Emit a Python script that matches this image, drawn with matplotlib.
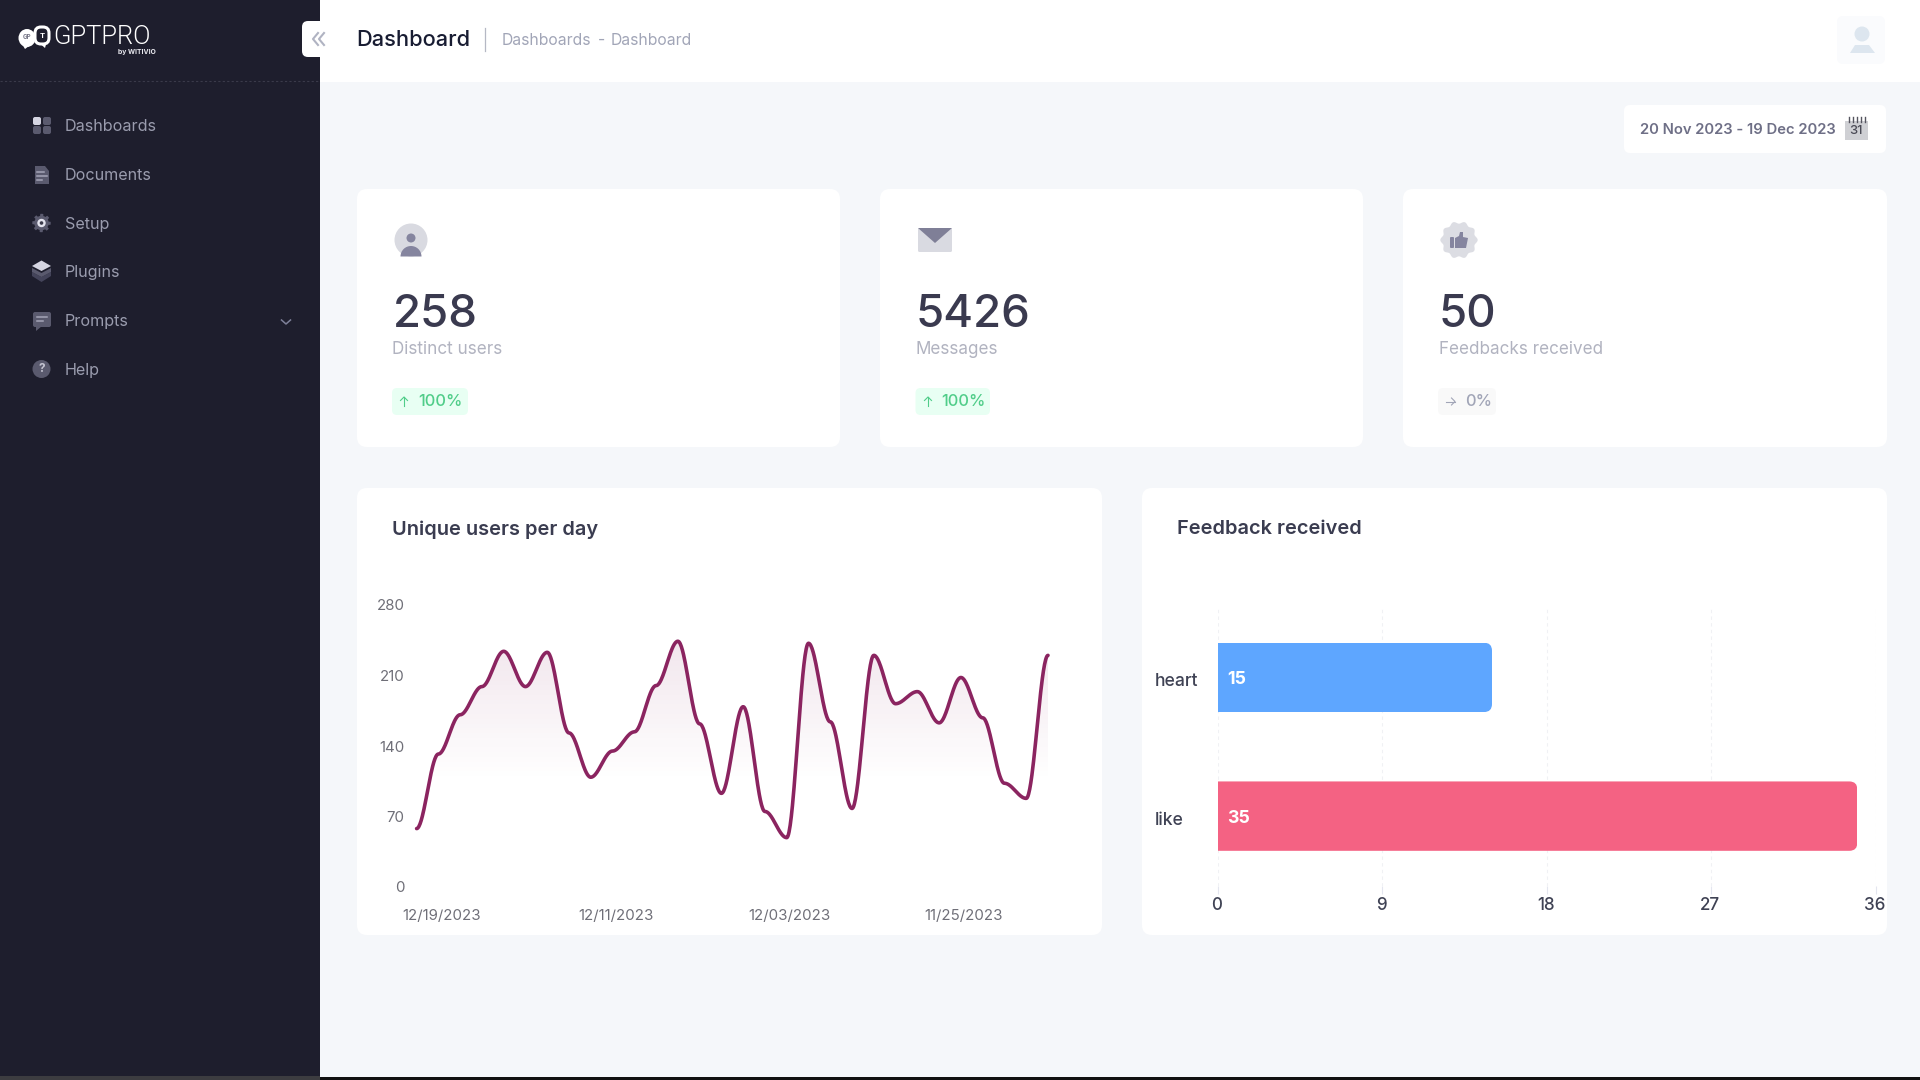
import numpy as np
import matplotlib
matplotlib.use("Agg")
import matplotlib.pyplot as plt
from matplotlib.patches import FancyBboxPatch, Rectangle, Circle, Polygon, Ellipse, Wedge
from matplotlib.ticker import FixedLocator
from matplotlib.transforms import ScaledTranslation

plt.rcParams['font.family'] = ['Inter', 'DejaVu Sans']

# ---------- data ----------
user_counts = [58, 132, 171, 199, 234, 199, 233, 153, 109, 135, 154, 200, 244, 162, 93,
               179, 75, 49, 242, 164, 78, 230, 182, 194, 163, 208, 168, 103, 88, 230]
date_tick_positions = [1, 9, 17, 25]
date_tick_labels = ['12/19/2023', '12/11/2023', '12/03/2023', '11/25/2023']
user_yticks = [0, 70, 140, 210, 280]

feedback_names = ['heart', 'like']
feedback_values = [15, 35]
feedback_colors = ['#5ea6ff', '#f46283']
feedback_xticks = [0, 9, 18, 27, 36]

menu_items = ['Dashboards', 'Documents', 'Setup', 'Plugins', 'Prompts', 'Help']
kpi_values = ['258', '5426', '50']
kpi_labels = ['Distinct users', 'Messages', 'Feedbacks received']
kpi_changes = ['100%', '100%', '0%']
# ---------------------------

W, H = 1920, 1080
fig = plt.figure(figsize=(19.2, 10.8), dpi=100, facecolor='#f5f7fa')
ui = fig.add_axes([0, 0, 1, 1])
ui.set_xlim(0, W)
ui.set_ylim(H, 0)
ui.axis('off')


def px(v):
    return v * 0.72


def box(x0, y0, x1, y1, color, r=0, z=1, **kw):
    if r:
        p = FancyBboxPatch((x0, y0), x1 - x0, y1 - y0, boxstyle=f'round,pad=0,rounding_size={r}',
                           fc=color, ec='none', zorder=z, **kw)
    else:
        p = Rectangle((x0, y0), x1 - x0, y1 - y0, fc=color, ec='none', zorder=z, **kw)
    ui.add_patch(p)
    return p


def label(x, y, s, size, color, weight=400, ha='left', z=5, family=None):
    t = ui.text(x, y + 1.5, s, fontsize=px(size), color=color, fontweight=weight, ha=ha,
                va='center', zorder=z)
    if family:
        t.set_fontfamily(family)
    return t


# page structure
box(0, 0, 320, 1076, '#1e1e2d', z=1)
box(0, 1076, 320, 1080, '#3c3c40', z=1)
box(320, 1077, W, 1080, '#111111', z=1)
box(320, 0, W, 82, '#ffffff', z=1)
ui.plot([0, 320], [81, 81], color='#3a3a4a', lw=0.8, ls=(0, (2, 2)), zorder=2)

# logo
ui.add_patch(Ellipse((27, 38), 17, 18, fc='white', ec='none', zorder=3))
ui.add_patch(Polygon([[22, 44], [29, 46], [25, 49]], fc='white', ec='none', zorder=3))
ui.add_patch(FancyBboxPatch((35, 27), 14, 17, boxstyle='round,pad=0,rounding_size=6',
                            fc='#1e1e2d', ec='white', lw=2.2, zorder=4))
ui.add_patch(Polygon([[41, 44.5], [46, 44.5], [45, 48]], fc='white', ec='none', zorder=4))
ui.text(27, 37, 'GP', fontsize=4.5, color='#777788', ha='center', va='center', zorder=5, fontweight=700)
ui.text(42, 36, 'T', fontsize=5.5, color='white', ha='center', va='center', zorder=5, fontweight=700)
label(53, 36, 'GPTPRO', 25.5, 'white', 300, family=['Roboto', 'DejaVu Sans'])
label(118, 50.5, 'by WITIVIO', 6.8, '#e8e8ee', 700)

# sidebar menu
menu_y = [125, 174, 223, 271, 320, 369]
for name, y in zip(menu_items, menu_y):
    label(65, y, name, 16.1, '#9a9cae', 400)
ic, ih = '#5a5a6e', '#a5a5b8'
box(33, 117, 41, 125, '#d5d5e2', r=2, z=3)
box(43, 117, 51, 125, ic, r=2, z=3)
box(33, 126, 41, 134, ic, r=2, z=3)
box(43, 126, 51, 134, ic, r=2, z=3)
ui.add_patch(Polygon([[35, 166], [45, 166], [49, 171], [49, 184], [35, 184]], fc=ic, ec='none', zorder=3))
for yy, xe in zip([172, 176, 180], [44, 47, 42]):
    ui.plot([37, xe], [yy, yy], color=ih, lw=1.1, zorder=4)
gear_t = np.linspace(0, 2 * np.pi, 97)
gear_r = 8.2 + 1.0 * np.sign(np.cos(8 * gear_t))
ui.add_patch(Polygon(np.c_[41.5 + gear_r * np.cos(gear_t), 223 + gear_r * np.sin(gear_t)], fc=ic, ec='none', zorder=3))
ui.add_patch(Circle((41.5, 223), 4.2, fc='#e4e4ee', ec='none', zorder=4))
ui.add_patch(Circle((41.5, 223), 1.8, fc='#3a3a4a', ec='none', zorder=5))
ui.add_patch(Polygon([[32, 272], [41.5, 277], [51, 272], [51, 276], [41.5, 282], [32, 276]], fc='#44445a', ec='none', zorder=3))
ui.add_patch(Polygon([[32, 268], [41.5, 273], [51, 268], [51, 272], [41.5, 277], [32, 272]], fc=ic, ec='none', zorder=3))
ui.add_patch(Polygon([[32, 266], [41.5, 260.5], [51, 266], [41.5, 271]], fc='#d5d5e2', ec='none', zorder=4))
box(33, 312, 51, 327, ic, r=2, z=3)
ui.add_patch(Polygon([[36, 326], [42, 326], [36, 331]], fc=ic, ec='none', zorder=3))
ui.plot([37, 47], [317, 317], color=ih, lw=1.1, zorder=4)
ui.plot([37, 43], [321, 321], color=ih, lw=1.1, zorder=4)
ui.add_patch(Circle((41.5, 369), 9, fc=ic, ec='none', zorder=3))
ui.text(41.5, 369, '?', fontsize=8.5, color='#c5c5d2', ha='center', va='center', fontweight=700, zorder=4)
ui.plot([281.5, 286, 290.5], [320, 324, 320], color='#7e8099', lw=1.1, zorder=4)

# collapse button and header
box(302, 21, 340, 57, '#ffffff', r=6, z=3)
for dx in (0, 6):
    ui.plot([318 + dx, 313 + dx, 318 + dx], [33, 39, 45], color='#b0b3c2', lw=1.5, zorder=4)
label(356, 39, 'Dashboard', 21.8, '#181c32', 500)
ui.plot([485, 485], [28, 51], color='#b5b8c4', lw=0.9, zorder=3)
label(502, 39, 'Dashboards', 15.7, '#a1a5b7', 400)
label(598, 39, '-', 15.7, '#a1a5b7', 400)
label(611, 39, 'Dashboard', 15.7, '#a1a5b7', 400)

# avatar
box(1837, 16, 1885, 64, '#fafbfd', r=6, z=2)
ui.add_patch(Circle((1862, 34), 7.5, fc='#dde6ef', ec='none', zorder=3))
ui.add_patch(Polygon([[1850, 53], [1855, 45], [1869, 45], [1875, 53]], fc='#dde6ef', ec='none', zorder=3))

# date box
box(1624, 105, 1886, 153, '#ffffff', r=6, z=2)
label(1640, 128, '20 Nov 2023 - 19 Dec 2023', 14.8, '#6e6f86', 600)
box(1845, 121, 1868, 140, '#cfd0d4', z=3)
for xx in (1849, 1853, 1857, 1861, 1865):
    ui.plot([xx, xx], [117, 122], color='#55555f', lw=1.0, zorder=4)
label(1856.5, 130, '31', 13, '#4a4a55', 500, ha='center')

# KPI cards
card_x = [(357, 840), (880, 1363), (1403, 1887)]
value_x = [392.5, 915.5, 1438.5]
text_x = [392, 915.5, 1439]
for (x0, x1), vx, tx, v, l in zip(card_x, value_x, text_x, kpi_values, kpi_labels):
    box(x0, 189, x1, 447, '#ffffff', r=10, z=2)
    label(vx, 313.5, v, 45.6, '#3a3a4f', 500)
    label(tx, 347.5, l, 17.1, '#b1b3c0', 400)

# KPI icons
ui.add_patch(Circle((411, 240), 16.5, fc='#d9dae1', ec='none', zorder=3))
ui.add_patch(Circle((411, 238), 4.5, fc='#85859f', ec='none', zorder=4))
ui.add_patch(Wedge((411, 256.5), 10.5, 180, 360, fc='#85859f', ec='none', zorder=4))
box(918, 228, 952, 252, '#d9dae1', r=1.5, z=3)
ui.add_patch(Polygon([[918, 228], [952, 228], [935, 243]], fc='#7f7f97', ec='none', zorder=4))
badge_t = np.linspace(0, 2 * np.pi, 121)
badge_r = 17.5 + 1.2 * np.cos(10 * badge_t)
ui.add_patch(Polygon(np.c_[1459 + badge_r * np.cos(badge_t), 240 + badge_r * np.sin(badge_t)], fc='#dcdde3', ec='none', zorder=3))
box(1450, 237, 1454, 248, '#85859f', r=1, z=4)
ui.add_patch(Polygon([[1455, 238], [1459, 236], [1460, 232], [1463, 232], [1463, 237], [1468, 238],
                      [1466, 248], [1455, 248]], fc='#85859f', ec='none', zorder=4))

# KPI change badges
badge_spans = [(392, 468), (915.5, 990), (1438, 1496)]
arrow_x = [404, 928, 1451]
change_x = [418, 941, 1465]
badge_bg = ['#e8fff3', '#e8fff3', '#f9f9f9']
badge_fg = ['#50cd89', '#50cd89', '#a1a5b7']
for (b0, b1), ax_, cx_, chg, bg, fg, i in zip(badge_spans, arrow_x, change_x, kpi_changes, badge_bg, badge_fg, range(3)):
    box(b0, 388, b1, 415, bg, r=5, z=3)
    label(cx_, 399.5, chg, 16.5, fg, 500)
    if i < 2:
        ui.plot([ax_, ax_], [397, 406], color=fg, lw=0.8, zorder=4)
        ui.plot([ax_ - 3.5, ax_, ax_ + 3.5], [400.5, 397, 400.5], color=fg, lw=0.8, zorder=4)
    else:
        ui.plot([ax_ - 5, ax_ + 4], [401.5, 401.5], color=fg, lw=0.8, zorder=4)
        ui.plot([ax_ + 0.5, ax_ + 4, ax_ + 0.5], [398, 401.5, 405], color=fg, lw=0.8, zorder=4)

# chart cards
box(357, 488, 1102, 935, '#ffffff', r=10, z=2)
box(1142, 488, 1887, 935, '#ffffff', r=10, z=2)
label(392, 528, 'Unique users per day', 20, '#3a3c50', 600)
label(1177, 528, 'Feedback received', 20, '#3a3c50', 600)


def axes_px(x0, y0, x1, y1):
    a = fig.add_axes([x0 / W, 1 - y1 / H, (x1 - x0) / W, (y1 - y0) / H])
    a.patch.set_alpha(0)
    for s in a.spines.values():
        s.set_visible(False)
    return a


# ---------- line chart ----------
lax = axes_px(416.6, 605, 1048, 887)
y = np.asarray(user_counts, float)
x = np.arange(len(y), dtype=float)
t = np.linspace(0, 1, 40)[:, None]
# cubic segments with flat tangents at each data point (the chart's smooth curve)
cx, cy = [], []
for i in range(len(y) - 1):
    p0, p3 = np.array([x[i], y[i]]), np.array([x[i + 1], y[i + 1]])
    p1 = np.array([x[i] + 0.35, y[i]])
    p2 = np.array([x[i + 1] - 0.35, y[i + 1]])
    seg = (1 - t) ** 3 * p0 + 3 * (1 - t) ** 2 * t * p1 + 3 * (1 - t) * t ** 2 * p2 + t ** 3 * p3
    cx.extend(seg[:, 0])
    cy.extend(seg[:, 1])
lax.plot(cx, cy, color='#8b2460', lw=px(3.6), solid_capstyle='round', clip_on=False, zorder=4)
grad = np.zeros((256, 2, 4))
grad[..., :3] = matplotlib.colors.to_rgb('#8b2460')
grad[..., 3] = np.interp(np.linspace(280, 0, 256), [105, 245], [0.0, 0.115])[:, None]
im = lax.imshow(grad, extent=[0, 29, 0, 280], aspect='auto', origin='upper', zorder=2)
area = Polygon(np.r_[np.c_[cx, cy], [[29, 0], [0, 0]]], transform=lax.transData, fc='none', ec='none')
lax.add_patch(area)
im.set_clip_path(area)
lax.set_xlim(0, 29)
lax.set_ylim(0, 280)
lax.set_yticks(user_yticks)
lax.set_xticks(date_tick_positions)
lax.set_xticklabels(date_tick_labels)
lax.tick_params(axis='both', length=0, labelsize=px(15), labelcolor='#6f6f78')
lax.tick_params(axis='x', pad=px(22.5))
lax.tick_params(axis='y', pad=px(12))
for tl in lax.get_xticklabels():
    tl.set_transform(tl.get_transform() + ScaledTranslation(px(3) / 72, 0, fig.dpi_scale_trans))

# ---------- bar chart ----------
bax = axes_px(1218, 608, 1875.6, 885.5)
bax.set_xlim(0, 36)
bax.set_ylim(1.5, -0.5)
bax.xaxis.set_major_locator(FixedLocator(feedback_xticks))
bax.set_yticks(range(len(feedback_names)))
bax.set_yticklabels(feedback_names)
bax.grid(axis='x', color='#f0f1f4', lw=0.8, ls=(0, (3, 3)), zorder=0)
bars = bax.barh(range(len(feedback_values)), feedback_values, height=0.5, color=feedback_colors, zorder=3)
x_per_px = 36 / 657.6
y_per_px = 2 / 277.5
for rect in bars:
    clip = FancyBboxPatch((rect.get_x() - 2, rect.get_y()), rect.get_width() + 2, rect.get_height(),
                          boxstyle=f'round,pad=0,rounding_size={8 * x_per_px}',
                          mutation_aspect=y_per_px / x_per_px, transform=bax.transData,
                          fc='none', ec='none')
    bax.add_patch(clip)
    rect.set_clip_path(clip)
for i, v in enumerate(feedback_values):
    bax.annotate(str(v), (0, i), xytext=(px(9.5), px(-2)), textcoords='offset points', color='white',
                 fontsize=px(17.8), fontweight=700, va='center', ha='left', zorder=5)
bax.tick_params(axis='x', length=px(7.5), width=0.8, color='#e4e6ef', labelsize=px(17),
                labelcolor='#3f4254', pad=px(4))
bax.tick_params(axis='y', length=0, labelsize=px(17.5), labelcolor='#3f4254', pad=px(63))
for tl in bax.get_yticklabels():
    tl.set_ha('left')
    tl.set_fontweight(500)
    tl.set_transform(tl.get_transform() + ScaledTranslation(0, px(-2.5) / 72, fig.dpi_scale_trans))
for tl in bax.get_xticklabels():
    tl.set_fontweight(500)
    tl.set_transform(tl.get_transform() + ScaledTranslation(px(-1) / 72, 0, fig.dpi_scale_trans))

fig.savefig('out.png', dpi=100, facecolor=fig.get_facecolor())
